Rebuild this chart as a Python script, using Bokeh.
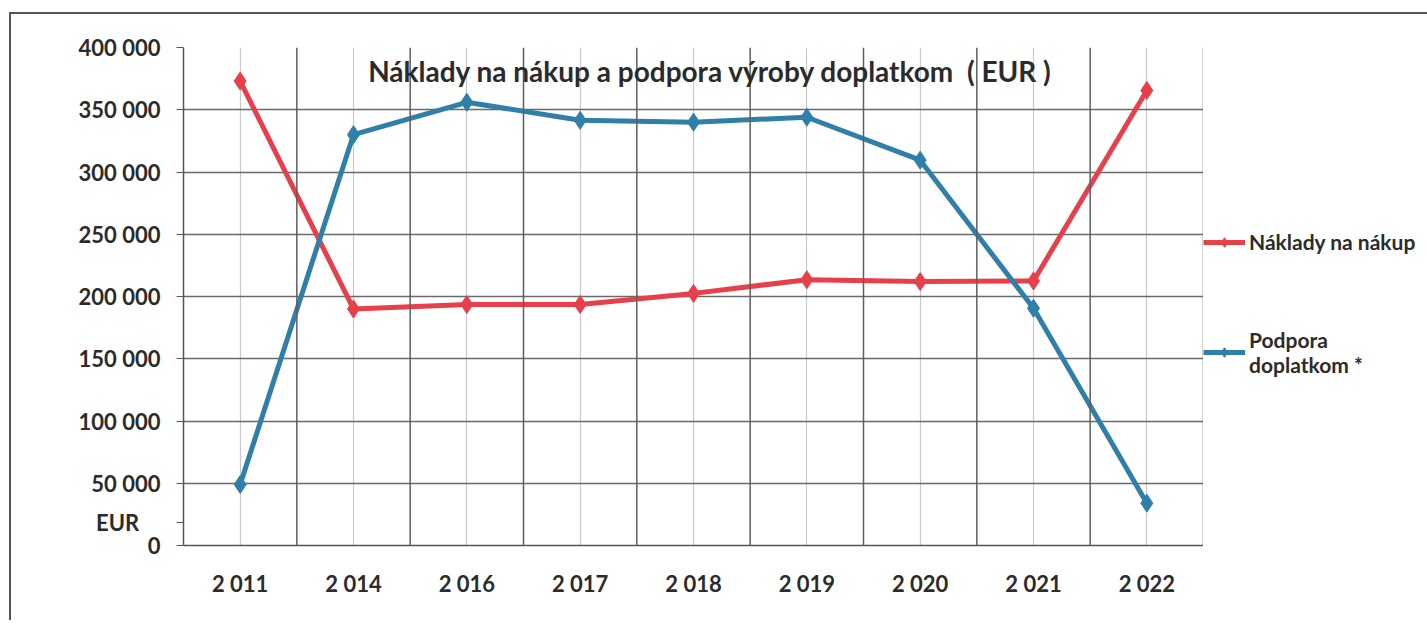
from bokeh.plotting import figure
from bokeh.layouts import row
from bokeh.models import (FactorRange, Span, Label, Legend, LegendItem, FixedTicker,
                          ColumnDataSource, Range1d)
from bokeh.embed import file_html
from bokeh.resources import INLINE

years = ["2 011", "2 014", "2 016", "2 017", "2 018", "2 019", "2 020", "2 021", "2 022"]
naklady = [373000, 190000, 193500, 193500, 202500, 213500, 212000, 212500, 365500]
podpora = [49000, 330000, 356000, 341500, 340000, 344000, 309500, 190500, 34000]
y_ticks = [0, 50000, 100000, 150000, 200000, 250000, 300000, 350000, 400000]
y_labels = ["0", "50 000", "100 000", "150 000", "200 000", "250 000", "300 000", "350 000", "400 000"]
unit_pos = 18500
unit_text = "EUR"
title_text = "Náklady na nákup a podpora výroby doplatkom \u00a0( EUR )"
name_red = "Náklady na nákup"
name_blue = "Podpora\ndoplatkom *"

RED = "#E8404B"
BLUE = "#2F7FA8"
FONT = "Lato"
TXT = "#2b2b2b"

src = ColumnDataSource(dict(x=years, a=naklady, b=podpora))

p = figure(x_range=FactorRange(*years), y_range=(0, 400000),
           width=1203, height=620, output_backend="svg", toolbar_location=None,
           min_border_left=183, min_border_right=0, min_border_top=47, min_border_bottom=75)
p.border_fill_alpha = 0
p.background_fill_color = "white"
p.outline_line_color = None

# grids
p.xgrid.grid_line_color = "#c9c9c9"
p.xgrid.grid_line_width = 1.2
p.ygrid.ticker = FixedTicker(ticks=y_ticks)
p.ygrid.grid_line_color = "#6a6a6a"
p.ygrid.grid_line_width = 1.3
for i in range(1, len(years) + 1):
    p.add_layout(Span(location=i, dimension="height", line_color="#5e5e5e", line_width=1.5))

# axes
p.yaxis.ticker = FixedTicker(ticks=y_ticks + [unit_pos])
overrides = {t: l for t, l in zip(y_ticks, y_labels)}
overrides[unit_pos] = unit_text + "\u00a0" * 4
p.yaxis.major_label_overrides = overrides
p.yaxis.minor_tick_line_color = None
p.yaxis.major_tick_out = 7
p.yaxis.major_tick_in = 0
p.yaxis.major_tick_line_color = "#555"
p.yaxis.axis_line_color = "#555"
p.yaxis.axis_line_width = 1.5
p.yaxis.major_label_standoff = 16
p.xaxis.major_tick_line_color = None
p.xaxis.axis_line_color = "#555"
p.xaxis.axis_line_width = 1.5
p.xaxis.major_label_standoff = 18
for ax in (p.xaxis[0], p.yaxis[0]):
    ax.major_label_text_font = FONT
    ax.major_label_text_font_style = "bold"
    ax.major_label_text_font_size = "22px"
    ax.major_label_text_color = TXT

# series
p.line("x", "a", source=src, line_color=RED, line_width=5)
p.scatter("x", "a", source=src, marker="diamond", size=18, fill_color=RED, line_color=RED)
p.line("x", "b", source=src, line_color=BLUE, line_width=5)
p.scatter("x", "b", source=src, marker="diamond", size=18, fill_color=BLUE, line_color=BLUE)

# title inside plot
p.add_layout(Label(x=527, x_units="screen", y=381500, text=title_text, text_align="center",
                   text_baseline="middle", text_font=FONT, text_font_style="bold",
                   text_font_size="28px", text_color=TXT))

# legend panel (separate figure to the right of the chart)
lg = figure(width=224, height=620, x_range=Range1d(0, 1), y_range=Range1d(0, 1),
            output_backend="svg", toolbar_location=None,
            min_border_left=0, min_border_right=0, min_border_top=0, min_border_bottom=0)
lg.axis.visible = False
lg.grid.visible = False
lg.outline_line_color = None
lg.background_fill_alpha = 0
lg.border_fill_alpha = 0
off = dict(x=[-5.0], y=[-5.0])
l1 = lg.line(x="x", y="y", source=ColumnDataSource(off), line_color=RED, line_width=5)
d1 = lg.scatter(x="x", y="y", source=ColumnDataSource(off), marker="diamond", size=14,
                fill_color=RED, line_color=RED)
l2 = lg.line(x="x", y="y", source=ColumnDataSource(off), line_color=BLUE, line_width=5)
d2 = lg.scatter(x="x", y="y", source=ColumnDataSource(off), marker="diamond", size=14,
                fill_color=BLUE, line_color=BLUE)
legend = Legend(items=[LegendItem(label=name_red, renderers=[l1, d1]),
                       LegendItem(label=name_blue, renderers=[l2, d2])],
                location=(0, 168), glyph_width=42, glyph_height=24, label_standoff=4,
                spacing=73, padding=0, margin=0, border_line_alpha=0, background_fill_alpha=0,
                label_text_font=FONT, label_text_font_style="bold", label_text_font_size="21px",
                label_text_color=TXT)
lg.add_layout(legend)

layout = row(p, lg)
layout.styles = {"box-shadow": "inset 9px 12px 0 0 #fff, inset 11px 14px 0 0 #555"}

open("out.html", "w").write(file_html(layout, INLINE))
